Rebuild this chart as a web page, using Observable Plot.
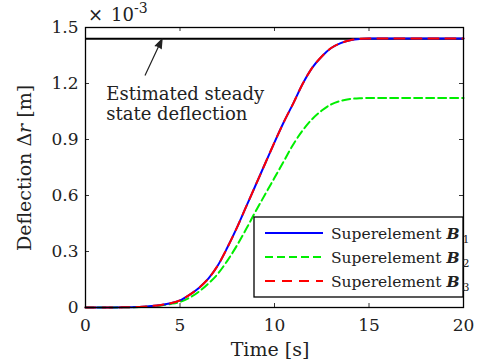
<!DOCTYPE html>
<html><head><meta charset="utf-8">
<script src="https://cdn.jsdelivr.net/npm/d3@7"></script>
<script src="https://cdn.jsdelivr.net/npm/@observablehq/plot@0.6"></script>
<style>
body{margin:0;background:#fff}
svg, svg text, svg tspan{font-family:"DejaVu Serif" !important}
</style>
</head><body><div id="chart"></div>
<script>
// ---- data (deflection in units of 1e-3 m) ----
const timeB1 = [0,1,2,3,3.5,4,4.5,5,5.5,6,6.5,7,7.5,8,8.5,9,9.5,10,10.5,11,11.5,12,12.5,13,13.5,14,14.5,15,16,17,18,19,20];
const deflB1 = [0,0,0.001,0.004,0.008,0.014,0.023,0.038,0.068,0.105,0.155,0.225,0.32,0.425,0.54,0.655,0.77,0.885,0.995,1.095,1.2,1.285,1.345,1.39,1.416,1.432,1.439,1.441,1.441,1.441,1.441,1.441,1.441];
const timeB2 = [0,1,2,3,3.5,4,4.5,5,5.5,6,6.5,7,7.5,8,8.5,9,9.5,10,10.5,11,11.5,12,12.5,13,13.5,14,14.5,15,16,17,18,19,20];
const deflB2 = [0,0,0.001,0.003,0.006,0.011,0.019,0.03,0.052,0.085,0.128,0.18,0.25,0.33,0.42,0.515,0.605,0.695,0.785,0.875,0.95,1.01,1.055,1.088,1.107,1.117,1.121,1.122,1.122,1.122,1.122,1.122,1.122];
const timeB3 = [0,1,2,3,3.5,4,4.5,5,5.5,6,6.5,7,7.5,8,8.5,9,9.5,10,10.5,11,11.5,12,12.5,13,13.5,14,14.5,15,16,17,18,19,20];
const deflB3 = [0,0,0.001,0.004,0.008,0.014,0.023,0.038,0.068,0.105,0.155,0.225,0.32,0.425,0.54,0.655,0.77,0.885,0.995,1.095,1.2,1.285,1.345,1.39,1.416,1.432,1.439,1.441,1.441,1.441,1.441,1.441,1.441];
const steadyState = [1.44];
const xTicks = [0,5,10,15,20];
const yTicks = [0,0.3,0.6,0.9,1.2,1.5];
const yTickLabels = ["0","0.3","0.6","0.9","1.2","1.5"];
const seriesWord = "Superelement";
const seriesSymbol = "B";
const seriesIndex = ["1","2","3"];
const seriesColor = ["#0000ff","#00ee00","#ff0000"];
const seriesDash = [null,"8,4","10,7"];
const annotText = ["Estimated steady\nstate deflection"];
const annotPos = [{x:1.1, y:1.193}];
const arrowPos = [{x1:3.16, y1:1.245, x2:4.05, y2:1.438}];
const xLabel = "Time [s]";
const yLabelParts = ["Deflection Δ","r"," [m]"];
const expParts = ["×","10","-3"];

const FONT = '"DejaVu Serif"';
const toRows = (t, v) => t.map((d,i)=>({t:d, v:v[i]}));
const W=480, H=364, mt=27, mr=17, mb=57, ml=85;
const innerW = W-ml-mr, innerH = H-mt-mb;

const plot = Plot.plot({
  width: W, height: H,
  marginLeft: ml, marginRight: mr, marginTop: mt, marginBottom: mb,
  style: {fontFamily: FONT, fontSize: "17px", color: "#222", background: "white", overflow: "visible"},
  x: {domain: [0,20], ticks: xTicks, tickSize: 0, tickPadding: 11, label: null},
  y: {domain: [0,1.5], ticks: yTicks, tickSize: 0, tickPadding: 7, label: null,
      tickFormat: d => yTickLabels[yTicks.indexOf(d)]},
  marks: [
    Plot.ruleY(steadyState, {stroke: "black", strokeWidth: 2}),
    Plot.line(toRows(timeB2, deflB2), {x:"t", y:"v", stroke: seriesColor[1], strokeWidth: 2, strokeDasharray: seriesDash[1], curve: "monotone-x"}),
    Plot.line(toRows(timeB1, deflB1), {x:"t", y:"v", stroke: seriesColor[0], strokeWidth: 2, curve: "monotone-x"}),
    Plot.line(toRows(timeB3, deflB3), {x:"t", y:"v", stroke: seriesColor[2], strokeWidth: 2, strokeDasharray: seriesDash[2], curve: "monotone-x"}),
    Plot.tickX(xTicks, {x: d=>d, insetTop: innerH-4, stroke: "black", strokeWidth: 0.8}),
    Plot.tickX(xTicks, {x: d=>d, insetBottom: innerH-4, stroke: "black", strokeWidth: 0.8}),
    Plot.tickY(yTicks, {y: d=>d, insetRight: innerW-4, stroke: "black", strokeWidth: 0.8}),
    Plot.tickY(yTicks, {y: d=>d, insetLeft: innerW-4, stroke: "black", strokeWidth: 0.8}),
    Plot.frame({stroke: "black", strokeWidth: 1.3}),
    Plot.text(annotPos, {x:"x", y:"y", text: () => annotText[0], textAnchor: "start", lineAnchor: "top", lineHeight: 1.15, fontSize: 18, fill: "#222"}),
    Plot.arrow(arrowPos, {x1:"x1", y1:"y1", x2:"x2", y2:"y2", stroke: "#222", fill: "#222", strokeWidth: 1.2, headLength: 12, headAngle: 40})
  ]
});
document.getElementById("chart").appendChild(plot);

const svg = d3.select(plot).attr("font-family", FONT);
const addText = (parent) => parent.append("text").attr("font-family", FONT).attr("fill", "#222").attr("text-anchor", "start");
// x label
addText(svg).attr("x", 270).attr("y", 356).attr("text-anchor","middle").attr("font-size",19).text(xLabel);
// y label
const yl = addText(svg).attr("transform","translate(31,168) rotate(-90)").attr("text-anchor","middle").attr("font-size",19);
yl.append("tspan").text(yLabelParts[0]);
yl.append("tspan").attr("font-style","italic").text(yLabelParts[1]);
yl.append("tspan").text(yLabelParts[2]);
// exponent
const ex = addText(svg).attr("x", 88).attr("y", 21).attr("font-size",18);
ex.append("tspan").text(expParts[0]);
ex.append("tspan").attr("dx",8).text(expParts[1]);
ex.append("tspan").attr("font-size",14).attr("dy",-8).text(expParts[2]);
// legend
const lg = svg.append("g").attr("transform","translate(254,217)");
lg.append("rect").attr("width",209).attr("height",80).attr("fill","white").attr("stroke","black").attr("stroke-width",1.3);
seriesIndex.forEach((s,i)=>{
  const y = 16 + i*24;
  const ln = lg.append("line").attr("x1",11).attr("x2",69).attr("y1",y).attr("y2",y).attr("stroke",seriesColor[i]).attr("stroke-width",2);
  if (seriesDash[i]) ln.attr("stroke-dasharray", seriesDash[i]);
  const t = addText(lg).attr("x",77).attr("y",y+5.5).attr("font-size",15.5);
  t.append("tspan").text(seriesWord + " ");
  t.append("tspan").attr("font-weight","bold").attr("font-style","italic").text(seriesSymbol);
  t.append("tspan").attr("font-size",11).attr("dx",3).attr("dy",4).text(s);
});
</script>
</body></html>
